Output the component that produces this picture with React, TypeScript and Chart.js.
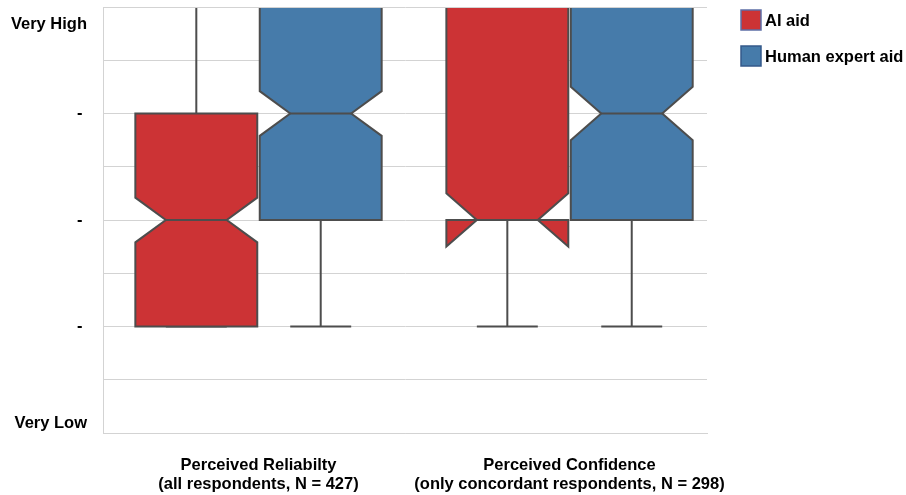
import React, { useEffect, useRef } from "react";
import { Chart, registerables } from "chart.js";

Chart.register(...registerables);

const categoryLabels = [
  ["Perceived Reliabilty", "(all respondents, N = 427)"],
  ["Perceived Confidence", "(only concordant respondents, N = 298)"],
];
const seriesNames = ["AI aid", "Human expert aid"];

const aiWhiskerLow = [2, 2];
const aiQ1 = [2, 3];
const aiMedian = [3, 3];
const aiQ3 = [4, 5];
const aiWhiskerHigh = [5, 5];
const aiNotchLow = [2.79, 2.75];
const aiNotchHigh = [3.21, 3.25];

const humanWhiskerLow = [2, 2];
const humanQ1 = [3, 3];
const humanMedian = [4, 4];
const humanQ3 = [5, 5];
const humanWhiskerHigh = [5, 5];
const humanNotchLow = [3.79, 3.75];
const humanNotchHigh = [4.21, 4.25];

const yTickValues = [1, 2, 3, 4, 5];
const yTickTexts = ["Very Low", "-", "-", "-", "Very High"];

const FONT = "'Liberation Sans', Arial, sans-serif";
const FS = 16.5;
const EDGE = "#4d4d4d";
const GRID = "#d3d3d3";

const boxPlugin = {
  id: "notchedBoxes",
  afterDatasetsDraw(chart: any) {
    const { ctx, chartArea, scales } = chart;
    const xs = scales.x;
    const ys = scales.y;
    ctx.save();
    ctx.beginPath();
    ctx.rect(chartArea.left, chartArea.top + 1, chartArea.right - chartArea.left, chartArea.bottom - chartArea.top);
    ctx.clip();
    chart.data.datasets.forEach((ds: any) => {
      const st = ds.stats;
      for (let i = 0; i < st.q1.length; i++) {
        const c = i + ds.offset;
        const halfW = ds.boxWidth / 2;
        const L = xs.getPixelForValue(c - halfW);
        const R = xs.getPixelForValue(c + halfW);
        const C = xs.getPixelForValue(c);
        const nL = xs.getPixelForValue(c - halfW / 2);
        const nR = xs.getPixelForValue(c + halfW / 2);
        const yq1 = ys.getPixelForValue(st.q1[i]);
        const yq3 = ys.getPixelForValue(st.q3[i]);
        const ymed = ys.getPixelForValue(st.median[i]);
        const ynl = ys.getPixelForValue(st.notchLow[i]);
        const ynh = ys.getPixelForValue(st.notchHigh[i]);
        const ywl = ys.getPixelForValue(st.whiskerLow[i]);
        const ywh = ys.getPixelForValue(st.whiskerHigh[i]);

        ctx.strokeStyle = EDGE;
        ctx.lineWidth = 2;
        ctx.lineJoin = "miter";
        // whiskers and caps
        ctx.beginPath();
        ctx.moveTo(C, yq1);
        ctx.lineTo(C, ywl);
        ctx.moveTo(C, yq3);
        ctx.lineTo(C, ywh);
        ctx.moveTo(nL, ywl);
        ctx.lineTo(nR, ywl);
        ctx.moveTo(nL, ywh);
        ctx.lineTo(nR, ywh);
        ctx.stroke();

        // notched box
        ctx.beginPath();
        ctx.moveTo(L, yq1);
        ctx.lineTo(L, ynl);
        ctx.lineTo(nL, ymed);
        ctx.lineTo(L, ynh);
        ctx.lineTo(L, yq3);
        ctx.lineTo(R, yq3);
        ctx.lineTo(R, ynh);
        ctx.lineTo(nR, ymed);
        ctx.lineTo(R, ynl);
        ctx.lineTo(R, yq1);
        ctx.closePath();
        ctx.fillStyle = ds.backgroundColor;
        ctx.fill();
        ctx.stroke();

        // median
        ctx.beginPath();
        ctx.moveTo(nL, ymed);
        ctx.lineTo(nR, ymed);
        ctx.stroke();
      }
    });
    ctx.restore();
  },
  afterDraw(chart: any) {
    const { ctx, chartArea } = chart;
    const x0 = chartArea.right + 34;
    ctx.save();
    chart.data.datasets.forEach((ds: any, i: number) => {
      const y0 = chartArea.top + 3 + i * 36;
      ctx.fillStyle = ds.backgroundColor;
      ctx.fillRect(x0, y0, 20, 20);
      ctx.strokeStyle = ds.legendBorder;
      ctx.lineWidth = 1.5;
      ctx.strokeRect(x0, y0, 20, 20);
      ctx.fillStyle = "#000";
      ctx.font = `bold ${FS}px ${FONT}`;
      ctx.textBaseline = "middle";
      ctx.textAlign = "left";
      ctx.fillText(ds.label, x0 + 24, y0 + 11);
    });
    ctx.restore();
  },
};

export default function App() {
  const ref = useRef<HTMLCanvasElement | null>(null);
  useEffect(() => {
    if (!ref.current) return;
    const chart = new Chart(ref.current, {
      type: "scatter",
      data: {
        datasets: [
          {
            label: seriesNames[0],
            data: [],
            backgroundColor: "#CC3335",
            legendBorder: "#5d6fa6",
            offset: -0.2,
            boxWidth: 0.392,
            stats: {
              whiskerLow: aiWhiskerLow,
              q1: aiQ1,
              median: aiMedian,
              q3: aiQ3,
              whiskerHigh: aiWhiskerHigh,
              notchLow: aiNotchLow,
              notchHigh: aiNotchHigh,
            },
          } as any,
          {
            label: seriesNames[1],
            data: [],
            backgroundColor: "#467BAA",
            legendBorder: "#35598a",
            offset: 0.2,
            boxWidth: 0.392,
            stats: {
              whiskerLow: humanWhiskerLow,
              q1: humanQ1,
              median: humanMedian,
              q3: humanQ3,
              whiskerHigh: humanWhiskerHigh,
              notchLow: humanNotchLow,
              notchHigh: humanNotchHigh,
            },
          } as any,
        ],
      },
      options: {
        animation: false,
        responsive: true,
        maintainAspectRatio: false,
        layout: { padding: { top: 7, left: 0, right: 199, bottom: 0 } },
        plugins: {
          legend: { display: false },
          tooltip: { enabled: false },
        },
        scales: {
          x: {
            type: "linear",
            min: -0.5,
            max: 1.442,
            grid: { display: false, drawTicks: false },
            border: { display: true, color: GRID, width: 1 },
            afterBuildTicks: (scale: any) => {
              scale.ticks = categoryLabels.map((_, i) => ({ value: i }));
            },
            afterFit: (scale: any) => {
              scale.height = 62;
              scale.paddingLeft = 0;
              scale.paddingRight = 0;
            },
            ticks: {
              autoSkip: false,
              maxRotation: 0,
              padding: 23,
              color: "#000",
              font: { family: FONT, size: FS, weight: "bold", lineHeight: 19 / FS },
              callback: (value: any) => categoryLabels[Math.round(Number(value))] ?? "",
            },
          },
          y: {
            type: "linear",
            min: 1,
            max: 5,
            grid: { color: GRID, lineWidth: 1, drawTicks: false },
            border: { display: true, color: GRID, width: 1 },
            afterFit: (scale: any) => {
              scale.width = 103;
              scale.paddingTop = 0;
              scale.paddingBottom = 0;
            },
            ticks: {
              stepSize: 0.5,
              autoSkip: false,
              padding: 16,
              color: "#000",
              font: (c: any) => {
                const v = c.tick ? c.tick.value : 0;
                const lh = v === 5 ? 35 / FS : v === 1 ? 20 / FS : 1.2;
                return { family: FONT, size: FS, weight: "bold", lineHeight: lh };
              },
              callback: (value: any) => {
                const v = Number(value);
                const idx = yTickValues.indexOf(v);
                if (idx < 0) return "";
                const t = yTickTexts[idx];
                if (v === 5) return ["", t];
                if (v === 1) return [t, ""];
                return t + " ";
              },
            },
          },
        },
      },
      plugins: [boxPlugin],
    } as any);
    return () => chart.destroy();
  }, []);
  return (
    <div style={{ position: "absolute", left: 0, top: 0, width: 906, height: 495, background: "#fff" }}>
      <canvas ref={ref} />
    </div>
  );
}
